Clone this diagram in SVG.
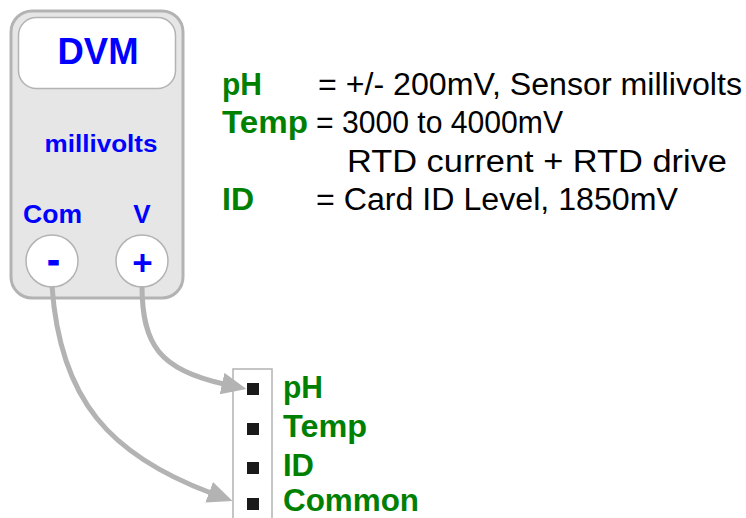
<svg xmlns="http://www.w3.org/2000/svg" width="746" height="518" viewBox="0 0 746 518">
<style>
.blue{font-family:"Liberation Sans",Arial,sans-serif;font-weight:bold;fill:#0000ff}
.lab{font-family:"Liberation Sans",Arial,sans-serif;font-weight:bold;fill:#008000;font-size:31px}
.desc{font-family:"Liberation Sans",Arial,sans-serif;fill:#000;font-size:31px}
.wire{fill:none;stroke:#b3b3b3;stroke-width:5}
.pin{fill:#1a1a1a}
.term{fill:#fff;stroke:#b3b3b3;stroke-width:1.5}
</style>
<defs>
<marker id="ah" markerUnits="userSpaceOnUse" markerWidth="28" markerHeight="24" refX="2" refY="11" orient="auto">
<path d="M0,0 L25,11 L0,22 z" fill="#b3b3b3"/>
</marker>
</defs>
<g id="dvm">
<rect x="11" y="11" width="172" height="287" rx="21" fill="#e6e6e6" stroke="#b3b3b3" stroke-width="3"/>
<rect x="18.5" y="17.5" width="157" height="71" rx="18" fill="#fff" stroke="#b3b3b3" stroke-width="1.5"/>
<text class="blue" x="98" y="64" font-size="37" text-anchor="middle" textLength="81" lengthAdjust="spacingAndGlyphs">DVM</text>
<text class="blue" x="101" y="152" font-size="24" text-anchor="middle" textLength="113" lengthAdjust="spacingAndGlyphs">millivolts</text>
<text class="blue" x="23" y="223" font-size="25" textLength="59" lengthAdjust="spacingAndGlyphs">Com</text>
<text class="blue" x="142" y="223" font-size="26" text-anchor="middle">V</text>
</g>
<g id="term-minus">
<circle class="term" cx="52" cy="261" r="26"/>
<text class="blue" x="53.5" y="272" font-size="36" text-anchor="middle" stroke="#0000ff" stroke-width="1.2">-</text>
</g>
<g id="term-plus">
<circle class="term" cx="142" cy="261" r="26"/>
<text class="blue" x="142.5" y="275" font-size="35" text-anchor="middle">+</text>
</g>
<g id="legend">
<text class="lab" x="222" y="95" textLength="40" lengthAdjust="spacingAndGlyphs">pH</text>
<text class="desc" x="318" y="95" textLength="424" lengthAdjust="spacingAndGlyphs">= +/- 200mV, Sensor millivolts</text>
<text class="lab" x="222" y="133" textLength="86" lengthAdjust="spacingAndGlyphs">Temp</text>
<text class="desc" x="316" y="133" textLength="247" lengthAdjust="spacingAndGlyphs">= 3000 to 4000mV</text>
<text class="desc" x="347" y="172" textLength="380" lengthAdjust="spacingAndGlyphs">RTD current + RTD drive</text>
<text class="lab" x="222" y="210" textLength="32" lengthAdjust="spacingAndGlyphs">ID</text>
<text class="desc" x="316" y="210" textLength="362" lengthAdjust="spacingAndGlyphs">= Card ID Level, 1850mV</text>
</g>
<g id="connector">
<rect x="233" y="369" width="39" height="170" fill="#fff" stroke="#b3b3b3" stroke-width="1.5"/>
<rect class="pin" x="247" y="383" width="12" height="12"/>
<rect class="pin" x="247" y="423" width="12" height="12"/>
<rect class="pin" x="247" y="462" width="12" height="12"/>
<rect class="pin" x="247" y="498" width="12" height="12"/>
<text class="lab" x="283" y="398" textLength="40" lengthAdjust="spacingAndGlyphs">pH</text>
<text class="lab" x="283" y="437" textLength="84" lengthAdjust="spacingAndGlyphs">Temp</text>
<text class="lab" x="283" y="476" textLength="31" lengthAdjust="spacingAndGlyphs">ID</text>
<text class="lab" x="283" y="511" font-size="30" textLength="136" lengthAdjust="spacingAndGlyphs">Common</text>
</g>
<g id="connectors">
<path class="wire" d="M142,286 C142,345 160,370 224,384" marker-end="url(#ah)"/>
<path class="wire" d="M52,286 C60,400 110,455 211,493" marker-end="url(#ah)"/>
</g>
</svg>
